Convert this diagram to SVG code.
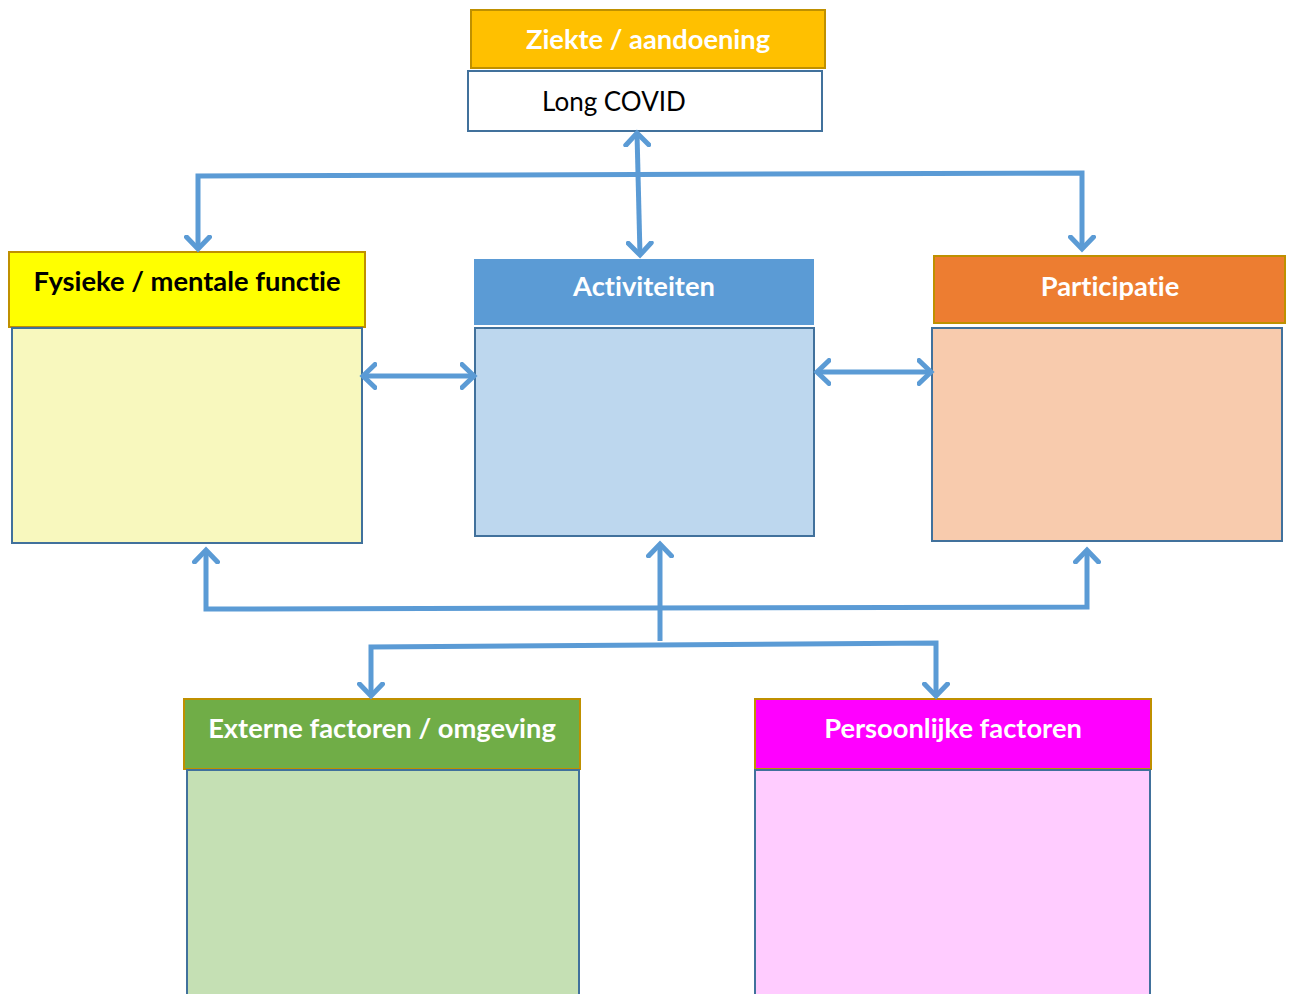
<svg xmlns="http://www.w3.org/2000/svg" width="1289" height="994" viewBox="0 0 1289 994">
  <defs>
    <style>
      .hdr { stroke: #BF9000; stroke-width: 2; }
      .body { stroke: #41719C; stroke-width: 2; }
      .ttl { font-family: Lato, "Open Sans", sans-serif; font-weight: bold; font-size: 27.3px; text-anchor: middle; font-variant-ligatures: none; }
      .wire { fill: none; stroke: #5B9BD5; stroke-width: 5; stroke-linejoin: miter; }
    </style>
    <marker id="head" viewBox="-14 -14 28 28" markerWidth="28" markerHeight="28" refX="0" refY="0" orient="auto-start-reverse" markerUnits="userSpaceOnUse">
      <path d="M-12,-11.5 L0,0 L-12,11.5" fill="none" stroke="#5B9BD5" stroke-width="5" stroke-linecap="round" stroke-linejoin="miter"/>
    </marker>
  </defs>

  <!-- Condition -->
  <g id="ziekte">
    <rect class="hdr" x="471" y="10" width="354" height="58" fill="#FFC000"/>
    <text class="ttl" x="648" y="49" fill="#FFFFFF">Ziekte / aandoening</text>
  </g>
  <g id="long-covid">
    <rect class="body" x="468" y="71" width="354" height="60" fill="#FFFFFF"/>
    <text x="542" y="111" font-family="Lato, 'Open Sans', sans-serif" font-size="26" fill="#000000">Long COVID</text>
  </g>

  <!-- Body functions -->
  <g id="functie">
    <rect class="hdr" x="9" y="252" width="356" height="75" fill="#FFFF00"/>
    <text class="ttl" x="187" y="291" fill="#000000">Fysieke / mentale functie</text>
    <rect class="body" x="12" y="328" width="350" height="215" fill="#F8F8BE"/>
  </g>

  <!-- Activities -->
  <g id="activiteiten">
    <rect x="474" y="259" width="340" height="66" fill="#5B9BD5"/>
    <text class="ttl" x="644" y="296" fill="#FFFFFF">Activiteiten</text>
    <rect class="body" x="475" y="328" width="339" height="208" fill="#BDD7EE"/>
  </g>

  <!-- Participation -->
  <g id="participatie">
    <rect class="hdr" x="934" y="256" width="351" height="67" fill="#ED7D31"/>
    <text class="ttl" x="1110" y="296" fill="#FFFFFF">Participatie</text>
    <rect class="body" x="932" y="328" width="350" height="213" fill="#F8CBAD"/>
  </g>

  <!-- Environmental factors -->
  <g id="externe">
    <rect class="hdr" x="184" y="699" width="396" height="70" fill="#70AD47"/>
    <text class="ttl" x="382" y="738" fill="#FFFFFF">Externe factoren / omgeving</text>
    <rect class="body" x="187" y="770" width="392" height="230" fill="#C5E0B4"/>
  </g>

  <!-- Personal factors -->
  <g id="persoonlijk">
    <rect class="hdr" x="755" y="699" width="396" height="70" fill="#FF00FF"/>
    <text class="ttl" x="953" y="738" fill="#FFFFFF">Persoonlijke factoren</text>
    <rect class="body" x="755" y="770" width="395" height="230" fill="#FFCCFF"/>
  </g>

  <!-- Connectors -->
  <g id="connectors">
    <!-- top distribution -->
    <line class="wire" x1="637" y1="133" x2="640" y2="255" marker-start="url(#head)" marker-end="url(#head)"/>
    <polyline class="wire" points="198,249 198,176 1082,173 1082,249" marker-start="url(#head)" marker-end="url(#head)"/>
    <!-- horizontal links between the middle row -->
    <line class="wire" x1="363" y1="376" x2="474" y2="376" marker-start="url(#head)" marker-end="url(#head)"/>
    <line class="wire" x1="817" y1="372" x2="931" y2="372" marker-start="url(#head)" marker-end="url(#head)"/>
    <!-- bottom distribution -->
    <polyline class="wire" points="206,550 206,609 1087,607 1087,550" marker-start="url(#head)" marker-end="url(#head)"/>
    <line class="wire" x1="660" y1="641" x2="660" y2="544" marker-end="url(#head)"/>
    <polyline class="wire" points="371,696 371,647 936,643 936,696" marker-start="url(#head)" marker-end="url(#head)"/>
  </g>
</svg>
